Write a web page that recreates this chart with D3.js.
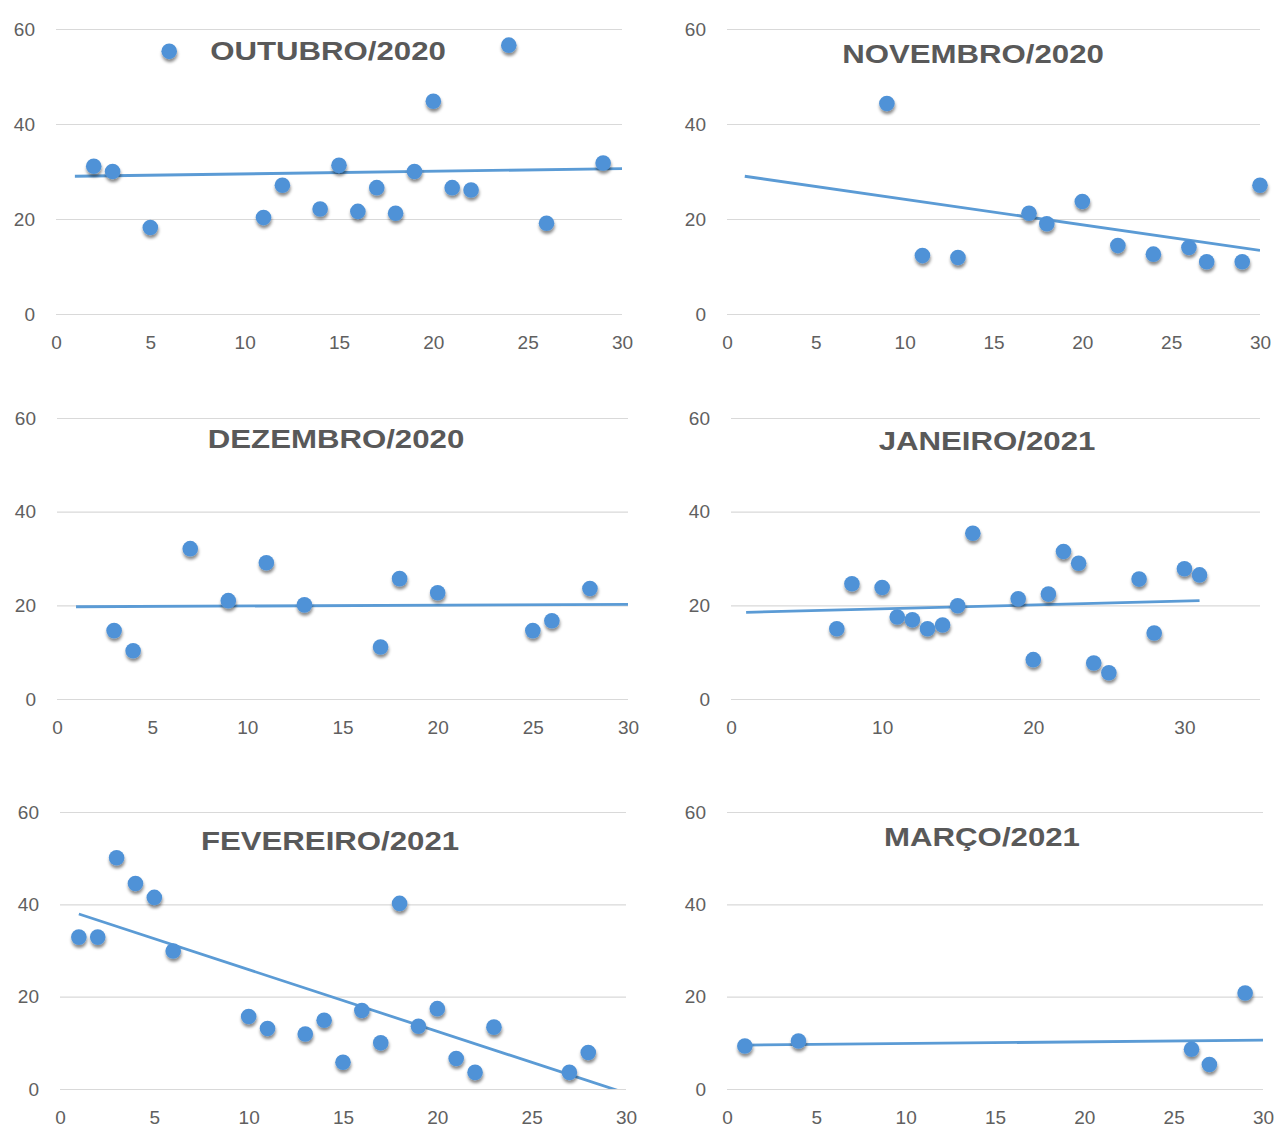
<!DOCTYPE html>
<html>
<head>
<meta charset="utf-8">
<script src="https://cdn.jsdelivr.net/npm/d3@7"></script>
<style>
  body { margin: 0; background: #fff; }
  .tick text { font-family: "Liberation Sans Narrow", "Liberation Sans", Arial, sans-serif; font-size: 19px; fill: #606060; }
  .title { font-family: "Liberation Sans", Arial, sans-serif; font-weight: bold; font-size: 26px; fill: #595959; }
</style>
</head>
<body>
<div id="chart"></div>
<script>
// day of month / value
var outDays = [2, 3, 5, 6, 11, 12, 14, 15, 16, 17, 18, 19, 20, 21, 22, 24, 26, 29];
var outValues = [31.1, 30.0, 18.2, 55.3, 20.3, 27.1, 22.1, 31.3, 21.6, 26.6, 21.2, 30.0, 44.8, 26.6, 26.1, 56.6, 19.1, 31.8];
var outTrend = [[1, 29.0], [30, 30.6]];

var novDays = [9, 11, 13, 17, 18, 20, 22, 24, 26, 27, 29, 30];
var novValues = [44.3, 12.3, 11.9, 21.2, 19.0, 23.7, 14.4, 12.6, 14.0, 11.0, 11.0, 27.1];
var novTrend = [[1, 29.0], [30, 13.4]];

var dezDays = [3, 4, 7, 9, 11, 13, 17, 18, 20, 25, 26, 28];
var dezValues = [14.6, 10.3, 32.1, 21.0, 29.1, 20.1, 11.1, 25.7, 22.7, 14.6, 16.7, 23.6];
var dezTrend = [[1, 19.7], [30, 20.2]];

var janDays = [7, 8, 10, 11, 12, 13, 14, 15, 16, 19, 20, 21, 22, 23, 24, 25, 27, 28, 30, 31];
var janValues = [15.0, 24.6, 23.8, 17.5, 16.9, 15.0, 15.8, 19.9, 35.4, 21.4, 8.4, 22.4, 31.5, 29.0, 7.7, 5.6, 25.6, 14.1, 27.8, 26.5];
var janTrend = [[1, 18.5], [31, 21.0]];

var fevDays = [1, 2, 3, 4, 5, 6, 10, 11, 13, 14, 15, 16, 17, 18, 19, 20, 21, 22, 23, 27, 28];
var fevValues = [32.9, 32.9, 50.1, 44.5, 41.5, 29.9, 15.7, 13.1, 11.9, 14.9, 5.8, 17.0, 10.0, 40.2, 13.6, 17.4, 6.6, 3.6, 13.4, 3.6, 7.9];
var fevTrend = [[1, 37.9], [30, -0.9]];

var marDays = [1, 4, 26, 27, 29];
var marValues = [9.3, 10.4, 8.6, 5.3, 20.8];
var marTrend = [[1, 9.5], [30, 10.6]];

var monthTitles = ["OUTUBRO/2020", "NOVEMBRO/2020", "DEZEMBRO/2020", "JANEIRO/2021", "FEVEREIRO/2021", "MARÇO/2021"];
var yTicks = [0, 20, 40, 60];

function scatterBoard() {
  var self = this;
  var blue = "#5b9bd5";
  var dot = "#4f92d7";

  // plot boxes in page pixels
  var boxes = [
    {left: 56, right: 622, top: 29, bottom: 314, xMax: 30, xStep: 5, tx: 328, ty: 60},
    {left: 727, right: 1260, top: 29, bottom: 314, xMax: 30, xStep: 5, tx: 973, ty: 63},
    {left: 57, right: 628, top: 418, bottom: 699, xMax: 30, xStep: 5, tx: 336, ty: 448},
    {left: 731, right: 1260, top: 418, bottom: 699, xMax: 35, xStep: 10, tx: 987, ty: 450},
    {left: 60, right: 626, top: 812, bottom: 1089, xMax: 30, xStep: 5, tx: 330, ty: 850},
    {left: 727, right: 1263, top: 812, bottom: 1089, xMax: 30, xStep: 5, tx: 982, ty: 846}
  ];
  var series = [
    [outDays, outValues, outTrend],
    [novDays, novValues, novTrend],
    [dezDays, dezValues, dezTrend],
    [janDays, janValues, janTrend],
    [fevDays, fevValues, fevTrend],
    [marDays, marValues, marTrend]
  ];

  this.init = function() {
    self.svg = d3.select("#chart").append("svg")
      .attr("width", 1276).attr("height", 1129);

    var defs = self.svg.append("defs");
    var f = defs.append("filter").attr("id", "shadow")
      .attr("x", "-50%").attr("y", "-50%").attr("width", "200%").attr("height", "200%");
    f.append("feDropShadow")
      .attr("dx", 0.5).attr("dy", 3).attr("stdDeviation", 1.6)
      .attr("flood-color", "#000").attr("flood-opacity", 0.45);

    boxes.forEach(function(b, i) { self.drawPanel(b, series[i], monthTitles[i], i); });
  };

  this.drawPanel = function(b, s, title, i) {
    var x = d3.scaleLinear().domain([0, b.xMax]).range([b.left, b.right]);
    var y = d3.scaleLinear().domain([0, 60]).range([b.bottom, b.top]);
    var g = self.svg.append("g").attr("class", "panel");

    self.svg.select("defs").append("clipPath").attr("id", "clip" + i)
      .append("rect")
      .attr("x", b.left).attr("y", b.top)
      .attr("width", b.right - b.left).attr("height", b.bottom - b.top);

    var ya = g.append("g")
      .attr("transform", "translate(" + b.left + ",0)")
      .call(d3.axisLeft(y).tickValues(yTicks).tickSize(-(b.right - b.left)).tickPadding(21));
    ya.select(".domain").remove();
    ya.selectAll(".tick line").attr("stroke", "#d9d9d9").attr("stroke-width", 1.2);

    var xa = g.append("g")
      .attr("transform", "translate(0," + b.bottom + ")")
      .call(d3.axisBottom(x).tickValues(d3.range(0, b.xMax, b.xStep).concat(b.xMax === 30 ? [30] : []))
        .tickSize(0).tickPadding(22));
    xa.select(".domain").remove();

    g.append("text").attr("class", "title")
      .attr("text-anchor", "middle")
      .attr("transform", "translate(" + b.tx + "," + b.ty + ") scale(1.2,1)")
      .text(title);

    var line = d3.line().x(function(d) { return x(d[0]); }).y(function(d) { return y(d[1]); });
    g.append("path")
      .attr("clip-path", "url(#clip" + i + ")")
      .attr("d", line(s[2]))
      .attr("fill", "none").attr("stroke", blue).attr("stroke-width", 2.8);

    var pts = s[0].map(function(d, k) { return [d, s[1][k]]; });
    g.append("g").attr("filter", "url(#shadow)")
      .selectAll("circle").data(pts).enter().append("circle")
      .attr("cx", function(d) { return x(d[0]); })
      .attr("cy", function(d) { return y(d[1]); })
      .attr("r", 7.8)
      .attr("fill", dot);
  };

  this.init();
}

var board = new scatterBoard();
</script>
</body>
</html>
